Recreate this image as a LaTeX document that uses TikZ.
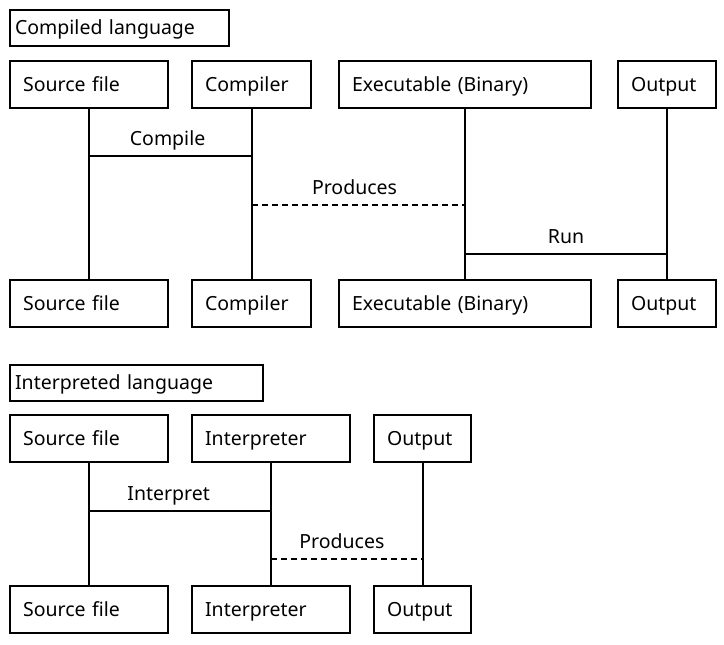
\documentclass[tikz,border=0pt]{standalone}
\usepackage{fontspec}
\setmainfont{Noto Sans}
\usetikzlibrary{calc}
\tikzset{
  box/.style={draw=black, line width=2.2pt, fill=white, anchor=north west,
    minimum height=47pt, inner xsep=13pt, inner ysep=0pt, align=left,
    text height=15pt, text depth=2pt,
    font=\fontsize{19.5}{22}\selectfont},
  titlebox/.style={draw=black, line width=2.2pt, fill=white, anchor=north west,
    minimum height=36pt, inner xsep=5pt, inner ysep=0pt, align=left,
    text height=14pt, text depth=2pt,
    font=\fontsize{19.5}{22}\selectfont},
  life/.style={line width=2.2pt},
  msg/.style={line width=2.2pt},
  ret/.style={line width=2.2pt, dash pattern=on 6pt off 4pt},
  lbl/.style={anchor=base, inner sep=0pt, yshift=10.5pt, font=\fontsize{19.5}{22}\selectfont}
}
\begin{document}
\begin{tikzpicture}[x=1pt,y=-1pt]
\useasboundingbox (0,0) rectangle (724,645);
% ---------- Compiled language ----------
\node[titlebox, text width=209pt] (t1) at (9,9) {Compiled language};
\node[box, text width=132pt] (src1) at (9,60) {Source file};
\node[box, text width=93pt] (cmp1) at (191,60) {Compiler};
\node[box, text width=226pt] (exe1) at (338,60) {Executable (Binary)};
\node[box, text width=72pt] (out1) at (617,60) {Output};
\node[box, text width=132pt] (src2) at (9,279) {Source file};
\node[box, text width=93pt] (cmp2) at (191,279) {Compiler};
\node[box, text width=226pt] (exe2) at (338,279) {Executable (Binary)};
\node[box, text width=72pt] (out2) at (617,279) {Output};
\draw[life] (src1.south) -- (src2.north);
\draw[life] (cmp1.south) -- (cmp2.north);
\draw[life] (exe1.south) -- (exe2.north);
\draw[life] (out1.south) -- (out2.north);
\coordinate (m1) at (0,156);
\coordinate (m2) at (0,205);
\coordinate (m3) at (0,254);
\draw[msg] (src1.south |- m1) -- (cmp1.south |- m1) node[lbl, pos=0.483] {Compile};
\draw[ret] (cmp1.south |- m2) -- (exe1.south |- m2) node[lbl, pos=0.482] {Produces};
\draw[msg] (exe1.south |- m3) -- (out1.south |- m3) node[lbl, pos=0.5] {Run};
% ---------- Interpreted language ----------
\node[titlebox, text width=243pt] (t2) at (9,364) {Interpreted language};
\node[box, text width=132pt] (isrc1) at (9,414) {Source file};
\node[box, text width=132pt] (int1) at (191,414) {Interpreter};
\node[box, text width=71pt] (iout1) at (373,414) {Output};
\node[box, text width=132pt] (isrc2) at (9,585) {Source file};
\node[box, text width=132pt] (int2) at (191,585) {Interpreter};
\node[box, text width=71pt] (iout2) at (373,585) {Output};
\draw[life] (isrc1.south) -- (isrc2.north);
\draw[life] (int1.south) -- (int2.north);
\draw[life] (iout1.south) -- (iout2.north);
\coordinate (n1) at (0,511);
\coordinate (n2) at (0,559);
\draw[msg] (isrc1.south |- n1) -- (int1.south |- n1) node[lbl, pos=0.437] {Interpret};
\draw[ret] (int1.south |- n2) -- (iout1.south |- n2) node[lbl, pos=0.467] {Produces};
\end{tikzpicture}
\end{document}
